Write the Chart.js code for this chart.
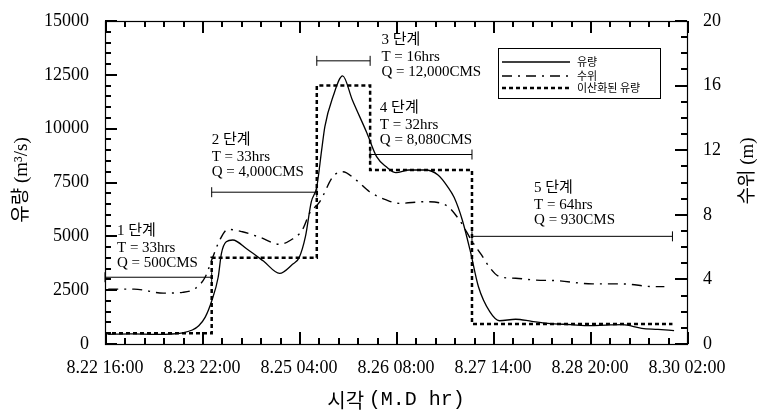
<!DOCTYPE html>
<html>
<head>
<meta charset="utf-8">
<script src="https://cdn.jsdelivr.net/npm/chart.js@4.4.1/dist/chart.umd.min.js"></script>
<style>html,body{margin:0;padding:0;background:#fff}</style>
</head>
<body>
<canvas id="c" width="765" height="414"></canvas>
<script>
// values. x = hours after 8.22 16:00
const tickLabels = ['8.22 16:00', '8.23 22:00', '8.25 04:00', '8.26 08:00', '8.27 14:00', '8.28 20:00', '8.30 02:00'];

// 유량 (m3/s)
const flowHours  = [1, 8, 16, 24, 27, 29, 31, 33, 35, 36, 37.5, 39.5, 44, 49, 54, 58, 60, 62, 63.8, 65.5, 67, 68, 70.5, 73.5,
                    76.5, 81, 84, 87, 90, 94, 99, 103, 106, 108, 110.5, 113, 115.5, 119, 122, 127, 132, 137, 144, 150, 155, 160, 166, 171, 176];
const flowValues = [450, 470, 450, 520, 650, 850, 1250, 2000, 3100, 4200, 4750, 4830, 4400, 3850, 3280, 3700, 4000, 5000, 6600, 7300, 9000, 10100, 11480, 12450,
                    11330, 9800, 8700, 8230, 7960, 8080, 8080, 7850, 7300, 6800, 5760, 4300, 2660, 1500, 1080, 1150, 1050, 960, 900, 850, 880, 900, 730, 680, 620];

// 수위 (m)
const levelHours  = [1, 9, 18, 24, 28, 31, 33, 35.5, 38, 42.5, 48, 54, 57.5, 61, 63.3, 66.4, 70.5, 73.5, 77.7, 81.8, 87, 91, 99, 105.4,
                     109.6, 113.7, 116.5, 118.8, 122, 127, 133, 140, 150.7, 160, 170, 173];
const levelValues = [3.4, 3.4, 3.15, 3.2, 3.45, 4.15, 5.2, 6.44, 7.1, 6.95, 6.6, 6.17, 6.44, 7.06, 8.1, 8.8, 10.36, 10.67, 10.15, 9.43, 8.92, 8.71, 8.81, 8.6,
                     7.68, 6.3, 5.5, 4.79, 4.17, 4.07, 3.96, 3.92, 3.72, 3.72, 3.55, 3.55];

// 이산화된 유량: stage boundaries (hours) and discretized flow per stage
const stageBounds = [0, 33, 65.5, 82, 113.5, 175.5];
const stageFlows  = [500, 4000, 12000, 8080, 930];
const stageHrs    = [33, 33, 16, 32, 64];
const stageNames  = ['1 단계', '2 단계', '3 단계', '4 단계', '5 단계'];

// where the stage brackets and notes sit (layout, in axis units)
const barLevels   = [3100, 7050, 13150, 8800, 5000];
const noteAnchors = [[3.7, 5250], [33, 9470], [85.5, 14120], [85, 10960], [132.7, 7250]];

// minor tick steps for the frame
const xStep = 6, yStep = 500, y2Step = 1;

const SERIF = "'Liberation Serif', 'Noto Sans CJK KR', serif";
const KR = "'Noto Sans CJK KR', sans-serif";

const stepData = stageFlows.map((q, i) => ({ x: stageBounds[i], y: q }));
stepData.push({ x: stageBounds[5], y: stageFlows[4] });

const datasets = [
  { label: '유량', data: flowHours.map((h, i) => ({ x: h, y: flowValues[i] })),
    borderColor: '#000', borderWidth: 1.3, pointRadius: 0, cubicInterpolationMode: 'monotone', yAxisID: 'y' },
  { label: '수위', data: levelHours.map((h, i) => ({ x: h, y: levelValues[i] })),
    borderColor: '#000', borderWidth: 1.4, borderDash: [10, 6, 2, 6], pointRadius: 0, cubicInterpolationMode: 'monotone', yAxisID: 'y2' },
  { label: '이산화된 유량', data: stepData, stepped: true,
    borderColor: '#000', borderWidth: 2.5, borderDash: [4, 3], pointRadius: 0, yAxisID: 'y' },
];
// stage brackets |----|
stageNames.forEach((n, i) => {
  datasets.push({
    label: n, data: [{ x: stageBounds[i], y: barLevels[i] }, { x: stageBounds[i + 1], y: barLevels[i] }],
    borderColor: '#000', borderWidth: 1, pointStyle: 'line', pointRotation: 90, pointRadius: 5,
    pointBorderWidth: 1, pointBorderColor: '#000', yAxisID: 'y', clip: false,
  });
});

const frameTicks = {
  id: 'frameTicks',
  afterDraw(chart) {
    const { ctx, chartArea: a, scales: { x, y, y2 } } = chart;
    ctx.save();
    ctx.strokeStyle = '#000';
    ctx.lineWidth = 1.2;
    ctx.setLineDash([]);
    ctx.strokeRect(a.left + 0.5, a.top + 0.5, a.width, a.height);
    // inward ticks on all four sides
    ctx.fillStyle = '#000';
    for (let v = 0; v <= 180; v += xStep) {
      const px = Math.round(x.getPixelForValue(v));
      const len = v % 30 === 0 ? 12 : 6;
      ctx.fillRect(px, a.bottom - len, 2, len);
      ctx.fillRect(px, a.top, 2, len);
    }
    for (let v = 0; v <= 15000; v += yStep) {
      const py = Math.round(y.getPixelForValue(v));
      const len = v % 2500 === 0 ? 12 : 6;
      ctx.fillRect(a.left, py - 1, len, 2);
    }
    for (let v = 0; v <= 20; v += y2Step) {
      const py = Math.round(y2.getPixelForValue(v));
      const len = v % 4 === 0 ? 12 : 6;
      ctx.fillRect(a.right - len, py - 1, len, 2);
    }

    // stage notes
    ctx.textBaseline = 'middle';
    ctx.textAlign = 'left';
    noteAnchors.forEach(([h, v], i) => {
      const px = x.getPixelForValue(h), py = y.getPixelForValue(v);
      ctx.font = '15px ' + SERIF;
      ctx.fillText(stageNames[i], px, py);
      ctx.fillText('T = ' + stageHrs[i] + 'hrs', px, py + 17);
      ctx.fillText('Q = ' + stageFlows[i].toLocaleString('en-US') + 'CMS', px, py + 32);
    });

    // legend box
    const lx = 498, ly = 48;
    ctx.lineWidth = 1;
    ctx.strokeRect(lx + 0.5, ly + 0.5, 162, 50);
    ctx.font = '11px ' + KR;
    [62, 76, 88].forEach((ry, i) => {
      const ds = chart.data.datasets[i];
      ctx.save();
      ctx.lineWidth = ds.borderWidth;
      ctx.setLineDash(ds.borderDash || []);
      ctx.beginPath();
      ctx.moveTo(lx + 4, ry); ctx.lineTo(lx + 72, ry);
      ctx.stroke();
      ctx.restore();
      ctx.fillText(ds.label, lx + 79, ry);
    });

    // axis titles
    ctx.font = '19px ' + SERIF;
    ctx.textAlign = 'center';
    ctx.save();
    ctx.translate(22, 180); ctx.rotate(-Math.PI / 2);
    ctx.fillText('유량 (m³/s)', 0, 0);
    ctx.restore();
    ctx.save();
    ctx.translate(748, 171); ctx.rotate(-Math.PI / 2);
    ctx.fillText('수위 (m)', 0, 0);
    ctx.restore();
    const t1 = '시각 ', t2 = '(M.D hr)';
    const f1 = '20px ' + KR, f2 = "20px 'Liberation Mono', monospace";
    ctx.font = f1;
    const w1 = ctx.measureText(t1).width;
    ctx.font = f2;
    const w2 = ctx.measureText(t2).width;
    const sx = (a.left + a.right) / 2 - (w1 + w2) / 2;
    ctx.textAlign = 'left';
    ctx.font = f1;
    ctx.fillText(t1, sx, 400);
    ctx.font = f2;
    ctx.fillText(t2, sx + w1, 400);
    ctx.restore();
  }
};

const tickFont = { family: SERIF, size: 18 };

new Chart(document.getElementById('c'), {
  type: 'line',
  data: { datasets },
  options: {
    responsive: false,
    animation: false,
    devicePixelRatio: 1,
    layout: { padding: { top: 21, left: 0, right: 0, bottom: 0 } },
    plugins: { legend: { display: false }, tooltip: { enabled: false } },
    scales: {
      x: {
        type: 'linear', min: 0, max: 180,
        grid: { display: false }, border: { display: false },
        ticks: {
          stepSize: 30, autoSkip: false, maxRotation: 0, padding: 5, color: '#000', font: tickFont,
          callback: v => tickLabels[v / 30],
        },
        afterFit(s) { s.height = 70; },
      },
      y: {
        position: 'left', min: 0, max: 15000,
        grid: { display: false }, border: { display: false },
        ticks: { stepSize: 2500, autoSkip: false, padding: 8, color: '#000', font: tickFont, callback: v => String(v) },
        afterFit(s) { s.width = 105; },
      },
      y2: {
        position: 'right', min: 0, max: 20,
        grid: { display: false }, border: { display: false },
        ticks: { stepSize: 4, autoSkip: false, padding: 8, color: '#000', font: tickFont, callback: v => String(v) },
        afterFit(s) { s.width = 78; },
      },
    },
  },
  plugins: [frameTicks],
});
</script>
</body>
</html>
